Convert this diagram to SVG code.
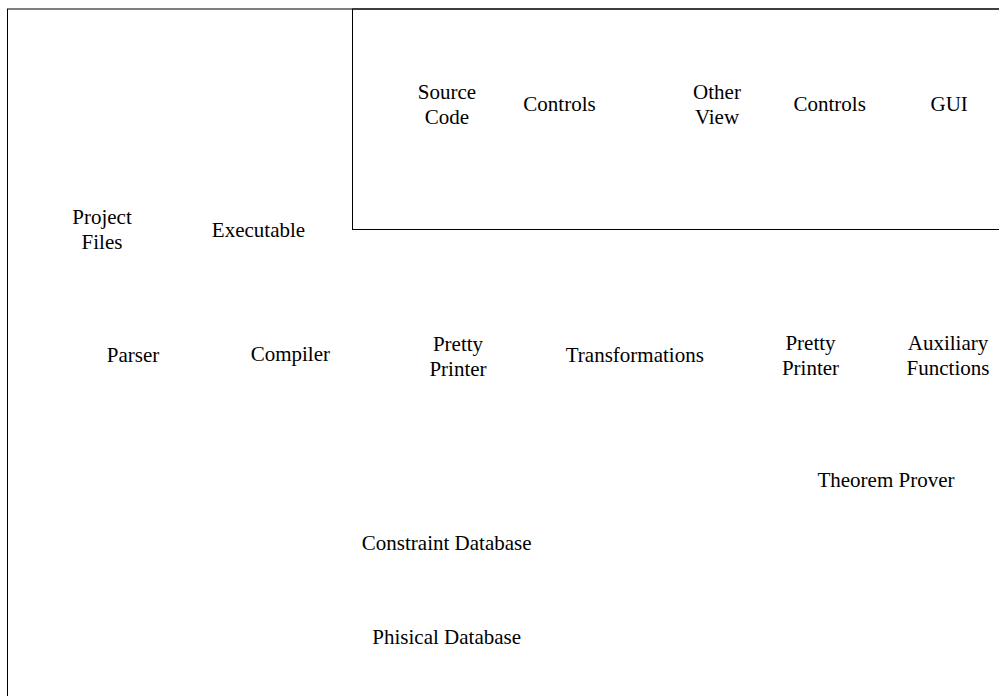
<svg xmlns="http://www.w3.org/2000/svg" width="999" height="696" viewBox="0 0 999 696">
<style>
.t{font-family:"Liberation Serif","Times New Roman",serif;font-size:21px;fill:#000;text-anchor:middle}
.frame{fill:none;stroke:#000;stroke-width:1}
</style>
<rect width="999" height="696" fill="#fff"/>
<g id="frames">
<rect class="frame" x="7.5" y="9" width="1100" height="800"/>
<rect class="frame" x="352.5" y="9" width="760" height="220.5"/>
</g>
<g id="connectors"/>
<g id="project-files"><text class="t" x="102" y="224">Project</text><text class="t" x="102" y="249">Files</text></g>
<g id="executable"><text class="t" x="258.5" y="237">Executable</text></g>
<g id="source-code"><text class="t" x="447" y="99">Source</text><text class="t" x="447" y="124">Code</text></g>
<g id="controls-1"><text class="t" x="559.5" y="111">Controls</text></g>
<g id="other-view"><text class="t" x="717" y="99">Other</text><text class="t" x="717" y="124">View</text></g>
<g id="controls-2"><text class="t" x="829.7" y="111">Controls</text></g>
<g id="gui"><text class="t" x="949.2" y="111">GUI</text></g>
<g id="parser"><text class="t" x="133" y="362">Parser</text></g>
<g id="compiler"><text class="t" x="290.3" y="361">Compiler</text></g>
<g id="pretty-printer-1"><text class="t" x="458" y="351">Pretty</text><text class="t" x="458" y="376">Printer</text></g>
<g id="transformations"><text class="t" x="634.8" y="362">Transformations</text></g>
<g id="pretty-printer-2"><text class="t" x="810.5" y="350">Pretty</text><text class="t" x="810.5" y="375">Printer</text></g>
<g id="auxiliary-functions"><text class="t" x="948" y="350">Auxiliary</text><text class="t" x="948" y="375">Functions</text></g>
<g id="theorem-prover"><text class="t" x="886" y="487">Theorem Prover</text></g>
<g id="constraint-database"><text class="t" x="446.7" y="550">Constraint Database</text></g>
<g id="phisical-database"><text class="t" x="446.7" y="644">Phisical Database</text></g>
</svg>
